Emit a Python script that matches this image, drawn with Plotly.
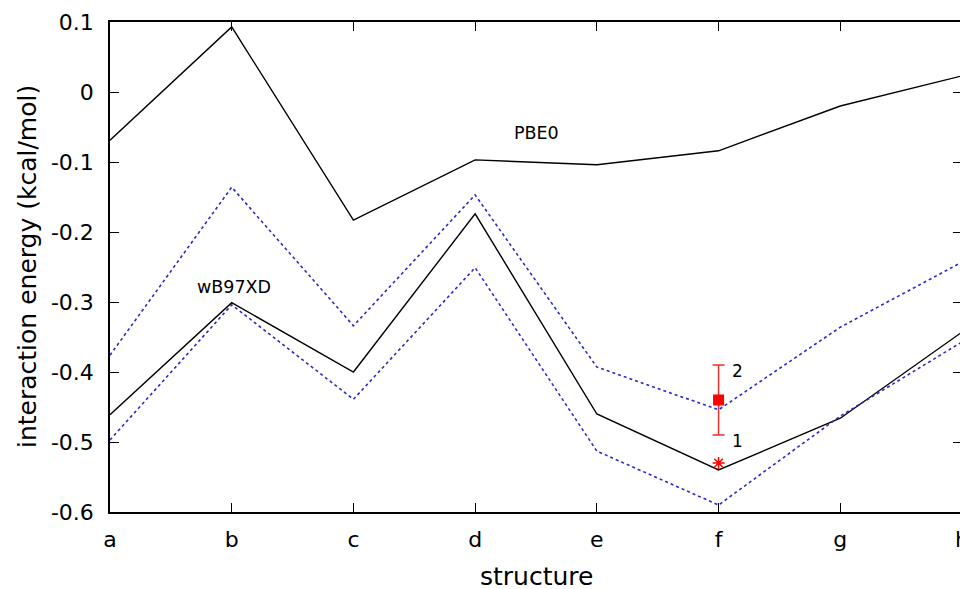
import plotly.graph_objects as go

structures = ["a", "b", "c", "d", "e", "f", "g", "h"]
pbe0 = [-0.069, 0.093, -0.183, -0.097, -0.104, -0.084, -0.020, 0.023]
wb97xd = [-0.461, -0.301, -0.400, -0.174, -0.460, -0.540, -0.466, -0.343]
wb97xd_upper = [-0.376, -0.136, -0.334, -0.147, -0.393, -0.454, -0.336, -0.243]
wb97xd_lower = [-0.497, -0.304, -0.439, -0.251, -0.513, -0.590, -0.463, -0.357]

ref_x = "f"
ref_val = -0.440
ref_err_plus = 0.050
ref_err_minus = 0.050
star_val = -0.530

yticks = [0.1, 0, -0.1, -0.2, -0.3, -0.4, -0.5, -0.6]
ytick_text = ["0.1", "0", "-0.1", "-0.2", "-0.3", "-0.4", "-0.5", "-0.6"]

idx = list(range(len(structures)))
ri = structures.index(ref_x)

font = "DejaVu Sans"
fig = go.Figure()
fig.add_trace(go.Scatter(x=idx, y=pbe0, mode="lines", line=dict(color="black", width=1.4)))
fig.add_trace(go.Scatter(x=idx, y=wb97xd, mode="lines", line=dict(color="black", width=1.4)))
fig.add_trace(go.Scatter(x=idx, y=wb97xd_upper, mode="lines", line=dict(color="#2a2ac8", width=1.6, dash="dot")))
fig.add_trace(go.Scatter(x=idx, y=wb97xd_lower, mode="lines", line=dict(color="#2a2ac8", width=1.6, dash="dot")))
fig.add_trace(go.Scatter(x=[ri], y=[ref_val], mode="markers",
                         marker=dict(symbol="square", color="red", size=11),
                         error_y=dict(type="data", symmetric=False, array=[ref_err_plus],
                                      arrayminus=[ref_err_minus], color="#e83030", thickness=1.5, width=6)))
fig.add_trace(go.Scatter(x=[ri], y=[star_val], mode="markers",
                         marker=dict(symbol="asterisk-open", color="red", size=10,
                                     line=dict(color="red", width=1.5))))

fig.add_annotation(x=ri, y=ref_val + ref_err_plus, text="2", showarrow=False, xanchor="left",
                   xshift=11, yshift=-6, font=dict(family=font, size=17, color="black"))
fig.add_annotation(x=ri, y=ref_val - ref_err_minus, text="1", showarrow=False, xanchor="left",
                   xshift=11, yshift=-6, font=dict(family=font, size=17, color="black"))
fig.add_annotation(x=3.5, y=-0.058, text="PBE0", showarrow=False,
                   font=dict(family=font, size=17.5, color="black"))
fig.add_annotation(x=1.02, y=-0.279, text="wB97XD", showarrow=False,
                   font=dict(family=font, size=17.5, color="black"))

# axis titles
fig.add_annotation(xref="paper", yref="paper", x=0.5, y=0, yanchor="middle", yshift=-64,
                   text="structure", showarrow=False, font=dict(family=font, size=25, color="black"))
fig.add_annotation(xref="paper", yref="paper", x=0, y=0.5, xanchor="center", xshift=-83,
                   textangle=-90, text="interaction energy (kcal/mol)", showarrow=False,
                   font=dict(family=font, size=25, color="black"))

axis_common = dict(showline=True, linecolor="black", linewidth=1.5, mirror="allticks",
                   ticks="inside", ticklen=9, tickcolor="black", tickwidth=1.2,
                   showgrid=False, zeroline=False, ticklabeloverflow="allow",
                   tickfont=dict(family=font, size=22, color="black"))

fig.update_layout(
    width=960, height=581,
    margin=dict(l=102, r=6, t=14, b=77, autoexpand=False),
    paper_bgcolor="white", plot_bgcolor="white",
    showlegend=False,
    xaxis=dict(range=[0, 7], tickvals=idx, ticktext=structures, ticklabelstandoff=7,
               automargin=False, **axis_common),
    yaxis=dict(range=[-0.6, 0.1], tickvals=yticks, ticktext=ytick_text, ticklabelstandoff=10,
               automargin=False, **axis_common),
)
fig.write_html("out.html")
